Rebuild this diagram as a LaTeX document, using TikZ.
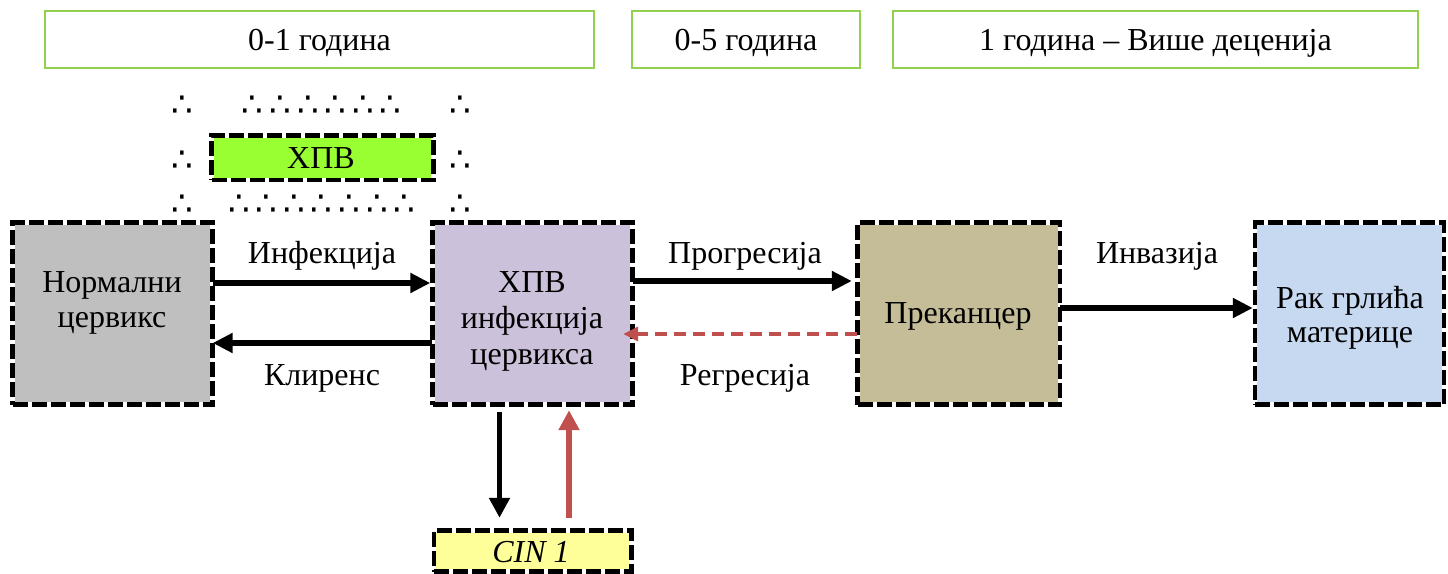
\documentclass[tikz,border=0pt]{standalone}
\usepackage{fontspec}
\setmainfont{Liberation Serif}
\newfontfamily\thfont{DejaVu Sans}
\usetikzlibrary{arrows.meta}

\definecolor{normalgray}{HTML}{BFBFBF}
\definecolor{infectlav}{HTML}{CCC1DA}
\definecolor{precantan}{HTML}{C4BD97}
\definecolor{cancerblue}{HTML}{C6D9F1}
\definecolor{cinyellow}{HTML}{FFFF99}
\definecolor{hpvgreen}{HTML}{99FF33}
\definecolor{yeargreen}{HTML}{92D050}
\definecolor{regred}{HTML}{C0504D}

% multi-line label whose base anchor sits on the first line
\newcommand\lines[1]{\begin{tabular}[t]{@{}c@{}}#1\end{tabular}}
% spacing between repeated "therefore" signs
\newlength\thw
\newcommand\thg{\settowidth{\thw}{∴}\hspace{\dimexpr27.6pt-\thw\relax}}

\begin{document}
\begin{tikzpicture}[x=1pt,y=-1pt,
  every node/.style={font=\fontsize{32}{35}\selectfont, inner sep=0pt},
  dbox/.style={fill=#1, draw=none,
    postaction={draw=white, line width=4.5pt},
    postaction={draw=black, line width=4.5pt, dash pattern=on 15pt off 4pt}},
  yearbox/.style={draw=yeargreen, line width=2.5pt, minimum height=57pt,
    text height=22pt, text depth=0pt},
  lbl/.style={anchor=base},
  therefore/.style={font=\thfont\fontsize{34}{34}\selectfont},
  blk/.style={-{Triangle[length=20pt,width=19pt]}, line width=6.5pt},
  vblk/.style={-{Triangle[length=20pt,width=20pt]}, line width=5pt},
  vred/.style={-{Triangle[length=20pt,width=20pt]}, line width=6pt, draw=regred},
  regr/.style={-{Triangle[length=15pt,width=14pt]}, line width=3.5pt, draw=regred,
    dash pattern=on 12pt off 7pt}
]
\useasboundingbox (0,0) rectangle (1448,573);

% time spans
\node[yearbox, minimum width=549pt] (y1) at (319.5,39.5) {0-1 година};
\node[yearbox, minimum width=228pt] (y2) at (746,39.5) {0-5 година};
\node[yearbox, minimum width=525pt] (y3) at (1155.5,39.5) {1 година – Више деценија};

% scattered "therefore" signs around the virus box
\node[therefore] (t1a) at (182,106) {∴};
\node[therefore] (t1b) at (321.7,106) {∴\thg∴\thg∴\thg∴\thg∴\thg∴};
\node[therefore] (t1c) at (460,106) {∴};
\node[therefore] (t2a) at (182,161.5) {∴};
\node[therefore] (t2c) at (460,161.5) {∴};
\node[therefore] (t3a) at (182,205.5) {∴};
\node[therefore] (t3b) at (321.7,205.5) {∴\thg∴\thg∴\thg∴\thg∴\thg∴\thg∴};
\node[therefore] (t3c) at (460,205.5) {∴};

\node[dbox=hpvgreen, minimum width=222pt, minimum height=44.5pt] (hpv) at (322.5,157.75) {};
\node[lbl] (hpv-t) at (321,168) {ХПВ};

% stages
\node[dbox=normalgray, minimum width=200pt, minimum height=182pt] (norm) at (112.5,313.5) {};
\node[dbox=infectlav, minimum width=200pt, minimum height=182pt] (inf) at (532.5,313.5) {};
\node[dbox=precantan, minimum width=202.5pt, minimum height=182pt] (prec) at (958.75,313.5) {};
\node[dbox=cancerblue, minimum width=189pt, minimum height=182pt] (canc) at (1349.5,313.5) {};
\node[dbox=cinyellow, minimum width=197.5pt, minimum height=41pt] (cin) at (532.75,551) {};

\node[lbl] (norm-t) at (112,292) {\lines{Нормални\\цервикс}};
\node[lbl, font=\fontsize{32}{36}\selectfont] (inf-t) at (532,292) {\lines{ХПВ\\инфекција\\цервикса}};
\node[lbl] (prec-t) at (958,323) {Преканцер};
\node[lbl, font=\fontsize{32}{34}\selectfont] (canc-t) at (1350,308) {\lines{Рак грлића\\материце}};
\node[lbl] (cin-t) at (531,562) {\itshape CIN 1};

% transitions
\draw[blk, shorten >=2pt] ([yshift=30.5pt]norm.east) -- ([yshift=30.5pt]inf.west);
\draw[blk] ([yshift=-29.5pt]inf.west) -- ([yshift=-29.5pt]norm.east);
\draw[blk, shorten >=5.5pt] ([yshift=32.5pt]inf.east) -- ([yshift=32.5pt]prec.west);
\draw[regr, shorten >=-9.5pt] ([yshift=-20.5pt]prec.west) -- ([yshift=-20.5pt]inf.east);
\draw[blk, shorten >=2pt] ([yshift=5.5pt]prec.east) -- ([yshift=5.5pt]canc.west);
\draw[vblk, shorten <=7.5pt, shorten >=12.5pt] ([xshift=-33pt]inf.south) -- ([xshift=-33pt]inf.south |- cin.north);
\draw[vred, shorten <=12.5pt, shorten >=5.5pt] ([xshift=36.5pt]inf.south |- cin.north) -- ([xshift=36.5pt]inf.south);

\node[lbl] (l-inf) at (322,263) {Инфекција};
\node[lbl] (l-cl) at (322,385) {Клиренс};
\node[lbl] (l-pr) at (745,263) {Прогресија};
\node[lbl] (l-rg) at (745,385) {Регресија};
\node[lbl] (l-inv) at (1157,263) {Инвазија};
\end{tikzpicture}
\end{document}
